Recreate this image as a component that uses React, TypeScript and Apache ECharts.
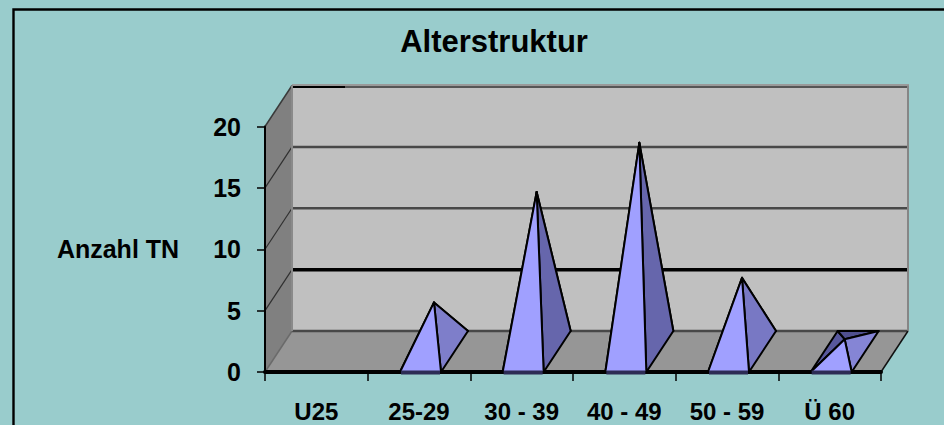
import React, { useEffect, useRef } from "react";
import * as echarts from "echarts";

const categories = ["U25", "25-29", "30 - 39", "40 - 49", "50 - 59", "Ü 60"];
const participants = [0, 4, 13, 17, 6, 1];
const yTicks = [0, 5, 10, 15, 20];

const FONT = "'Liberation Sans', Arial, sans-serif";
const DEPTH_X = 27;
const DEPTH_Y = -41;
const BASE_W = 41;
const BASE_SHIFT = 1.5;
const INK = "#000";

function mix(a: number[], b: number[], t: number) {
  const c = a.map((v, i) => Math.round(v + (b[i] - v) * t));
  return `rgb(${c[0]},${c[1]},${c[2]})`;
}

const poly = (points: number[][], fill: string, stroke = "none", lineWidth = 0) => ({
  type: "polygon",
  shape: { points },
  style: { fill, stroke, lineWidth, lineJoin: "round" },
});
const seg = (a: number[], b: number[], stroke: string, lineWidth: number) => ({
  type: "line",
  shape: { x1: a[0], y1: a[1], x2: b[0], y2: b[1] },
  style: { stroke, lineWidth },
});

// Room of the 3D chart: floor, side wall and back wall with their gridlines.
function renderRoom(params: any, api: any) {
  const x0 = params.coordSys.x;
  const x1 = x0 + params.coordSys.width;
  const y0 = api.coord([0, 0])[1];
  const top = api.coord([0, 20])[1];
  const dx = DEPTH_X;
  const dy = DEPTH_Y;
  const children: any[] = [
    poly([[x0 + dx, top + dy], [x1 + dx, top + dy], [x1 + dx, y0 + dy], [x0 + dx, y0 + dy]], "#c0c0c0"),
    poly([[x0, y0], [x0 + dx, y0 + dy], [x0 + dx, top + dy], [x0, top]], "#808080"),
    poly([[x0, y0], [x1, y0], [x1 + dx, y0 + dy], [x0 + dx, y0 + dy]], "#969696"),
  ];
  yTicks.forEach((t) => {
    const y = api.coord([0, t])[1];
    if (t === 20) return;
    const heavy = t === 5;
    children.push(seg([x0 + dx, y + dy], [x1 + dx, y + dy], heavy ? "#000" : "#484848", heavy ? 3.5 : 2.5));
    if (t > 0) children.push(seg([x0, y], [x0 + dx, y + dy], "#303030", 1.2));
  });
  // Upper rim of the back wall: pale highlight above a dark line, black at the far left.
  children.push(seg([x0 + dx, top + dy - 0.5], [x1 + dx + 1, top + dy - 0.5], "#9a9a9a", 2));
  children.push(seg([x0 + dx, top + dy + 1.5], [x1 + dx, top + dy + 1.5], "#565656", 2));
  children.push(seg([x0 + dx, top + dy + 1.5], [x0 + 80, top + dy + 1.5], "#000", 2));
  children.push(seg([x0, top], [x0 + dx, top + dy], "#3a3a3a", 1.5));
  children.push(seg([x0, y0], [x0 + dx, y0 + dy], "#6a6a6a", 1.5));
  children.push(seg([x0 + dx, top + dy], [x0 + dx, y0 + dy], "#8a8a8a", 2));
  children.push(seg([x1 + dx, top + dy], [x1 + dx, y0 + dy], "#868686", 2));
  children.push(seg([x1, y0], [x1 + dx, y0 + dy], "#111", 1.5));
  return { type: "group", children };
}

// One square-based pyramid standing on the floor, apex above the base centre.
function renderPyramid(_: any, api: any) {
  const idx = api.value(0);
  const val = api.value(1);
  if (!val) return { type: "group", children: [] };
  const [cx, y0] = api.coord([idx, 0]);
  const unit = y0 - api.coord([idx, 1])[1];
  const l = cx + BASE_SHIFT - BASE_W / 2;
  const r = l + BASE_W;
  const fl = [l, y0];
  const fr = [r, y0];
  const br = [r + DEPTH_X, y0 + DEPTH_Y];
  const bl = [l + DEPTH_X, y0 + DEPTH_Y];
  const apex = [(l + r) / 2 + DEPTH_X / 2, y0 + DEPTH_Y / 2 - val * unit];
  const side = mix([136, 136, 216], [102, 102, 172], Math.min(1, val / 13));
  const W = 2;
  return {
    type: "group",
    children: [
      poly([fl, bl, apex], "#58589c", INK, W),
      poly([bl, br, apex], "#50508f", INK, W),
      poly([fr, br, apex], side, INK, W),
      poly([fl, fr, apex], "#a0a0ff", INK, W),
      seg([l + 1, y0 + 0.5], [r - 1, y0 + 0.5], "#2c2c55", 4),
    ],
  };
}

export default function App() {
  const ref = useRef<HTMLDivElement>(null);
  useEffect(() => {
    document.body.style.margin = "0";
    const chart = echarts.init(ref.current!, undefined, { renderer: "svg" });
    chart.setOption({
      animation: false,
      backgroundColor: "#99cccc",
      title: {
        text: "Alterstruktur",
        left: 489,
        top: 21,
        textAlign: "center",
        textStyle: { fontFamily: FONT, fontWeight: "bold", fontSize: 31, color: "#000" },
      },
      graphic: [
        {
          type: "polyline",
          silent: true,
          z: 0,
          shape: { points: [[13.5, 440], [13.5, 9.5], [960, 9.5]] },
          style: { stroke: "#000", lineWidth: 2.4, fill: "none" },
        },
      ],
      grid: { left: 265, right: 63, top: 126.5, height: 245.5, outerBoundsMode: "none" },
      xAxis: {
        type: "category",
        z: 2,
        data: categories,
        boundaryGap: true,
        axisLine: { lineStyle: { color: "#000", width: 4 } },
        axisTick: { show: true, length: 9, lineStyle: { color: "#000", width: 1.5 } },
        axisLabel: {
          margin: 29,
          lineHeight: 20,
          fontFamily: FONT,
          fontWeight: "bold",
          fontSize: 24,
          color: "#000",
          interval: 0,
        },
        splitLine: { show: false },
      },
      yAxis: {
        type: "value",
        z: 2,
        min: 0,
        max: 20,
        interval: 5,
        name: "Anzahl TN",
        nameLocation: "middle",
        nameGap: 147,
        nameRotate: 0,
        nameTextStyle: { fontFamily: FONT, fontWeight: "bold", fontSize: 25, color: "#000", align: "center" },
        axisLine: { show: true, lineStyle: { color: "#000", width: 2 } },
        axisTick: { show: true, length: 8, lineStyle: { color: "#000", width: 1.5 } },
        axisLabel: { margin: 24, fontFamily: FONT, fontWeight: "bold", fontSize: 25, color: "#000" },
        splitLine: { show: false },
      },
      series: [
        {
          type: "custom",
          silent: true,
          z: 1,
          renderItem: renderRoom,
          encode: { x: 0, y: 1 },
          data: [[0, 0]],
        },
        {
          type: "custom",
          silent: true,
          z: 3,
          renderItem: renderPyramid,
          encode: { x: 0, y: 1 },
          data: participants.map((v, i) => [i, v]),
        },
      ],
    });
    return () => chart.dispose();
  }, []);
  return <div ref={ref} style={{ width: 944, height: 425 }} />;
}
